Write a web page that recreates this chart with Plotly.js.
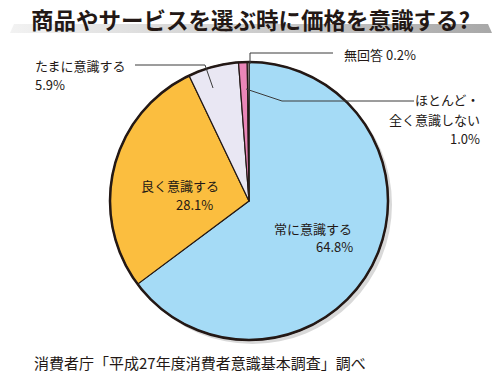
<!DOCTYPE html>
<html><head><meta charset="utf-8">
<script src="https://cdn.plot.ly/plotly-3.0.1.min.js"></script>
<style>body{margin:0;background:#fff}#c{width:500px;height:375px}</style>
</head><body><div id="c"></div>
<script>
const categories = ["常に意識する", "良く意識する", "たまに意識する", "ほとんど・全く意識しない", "無回答"];
const values = [64.8, 28.1, 5.9, 1.0, 0.2];
const colors = ["#a5dbf6", "#fbbe3f", "#e9e7f3", "#ea86b8", "#ffffff"];
const titleText = "商品やサービスを選ぶ時に価格を意識する?";
const sourceText = "消費者庁「平成27年度消費者意識基本調査」調べ";

const W = 500, H = 375;
const px = x => x / W, py = y => 1 - y / H;
const cx = 249, cy = 201, R = 139;
const FONT = "Noto Sans CJK JP";
const TXT = "#231815";
const pct = v => v.toFixed(1) + "%";

const pie = {
  type: "pie", labels: categories, values: values, sort: false,
  direction: "clockwise", rotation: 0, textinfo: "none", hoverinfo: "label+percent",
  marker: {colors: colors, line: {color: "#231815", width: 1.2}},
  domain: {x: [px(cx - R), px(cx + R)], y: [py(cy + R), py(cy - R)]},
  showlegend: false
};

// title band (gradient via scatter fillgradient)
const band = {
  type: "scatter", mode: "lines", x: [10, 492, 488, 14, 10], y: [33, 33, 24, 24, 33],
  fill: "toself", line: {width: 0},
  fillgradient: {type: "horizontal", colorscale: [[0, "#f2f2f2"], [1, "#a8a8a8"]]},
  xaxis: "x", yaxis: "y", hoverinfo: "skip", showlegend: false
};

function ann(text, x, y, align, anchor, size) {
  return {text: text, x: px(x), y: py(y), xref: "paper", yref: "paper", showarrow: false,
    xanchor: anchor, yanchor: "middle", align: align,
    font: {family: FONT, size: size || 13, color: TXT}};
}
function line(x0, y0, x1, y1) {
  return {type: "line", xref: "paper", yref: "paper", x0: px(x0), y0: py(y0), x1: px(x1), y1: py(y1),
    line: {color: "#3a3a3a", width: 1}};
}

const annotations = [
  {text: "<b>" + titleText + "</b>", x: 0.5, y: py(19), xref: "paper", yref: "paper", showarrow: false,
   xanchor: "center", yanchor: "middle", font: {family: FONT, size: 22.5, color: "#231815"}},
  ann(categories[2], 33, 65.5, "left", "left"),
  ann(pct(values[2]), 33, 84.5, "left", "left"),
  ann(categories[4] + " " + pct(values[4]), 342, 54, "left", "left"),
  ann("ほとんど・", 482, 100, "right", "right"),
  ann("全く意識しない", 482, 119, "right", "right"),
  ann(pct(values[3]), 482, 138, "right", "right"),
  ann(categories[1], 180, 185, "center", "center"),
  ann(pct(values[1]), 215, 204, "right", "right"),
  ann(categories[0], 313, 228, "center", "center"),
  ann(pct(values[0]), 355, 247, "right", "right"),
  ann(sourceText, 32, 362, "left", "left", 15)
];

const shapes = [
  {type: "circle", xref: "paper", yref: "paper", layer: "below",
   x0: px(cx - R + 3), x1: px(cx + R + 4), y0: py(cy + R + 4), y1: py(cy - R + 3),
   fillcolor: "#d9d9d9", line: {width: 0}},
  {type: "circle", xref: "paper", yref: "paper",
   x0: px(cx - R), x1: px(cx + R), y0: py(cy + R), y1: py(cy - R),
   line: {color: "#231815", width: 2.5}},
  line(250, 53, 250, 64), line(250, 53, 333, 53),
  line(246, 89, 282, 101), line(282, 101, 414, 101),
  line(135, 65, 205, 65), line(205, 65, 213, 88)
];

const layout = {
  width: W, height: H, margin: {l: 0, r: 0, t: 0, b: 0},
  paper_bgcolor: "#fff", plot_bgcolor: "rgba(0,0,0,0)",
  xaxis: {range: [0, W], visible: false, domain: [0, 1], fixedrange: true},
  yaxis: {range: [H, 0], visible: false, domain: [0, 1], fixedrange: true},
  annotations: annotations, shapes: shapes, showlegend: false
};
Plotly.newPlot("c", [band, pie], layout, {displayModeBar: false, staticPlot: true});
</script></body></html>
